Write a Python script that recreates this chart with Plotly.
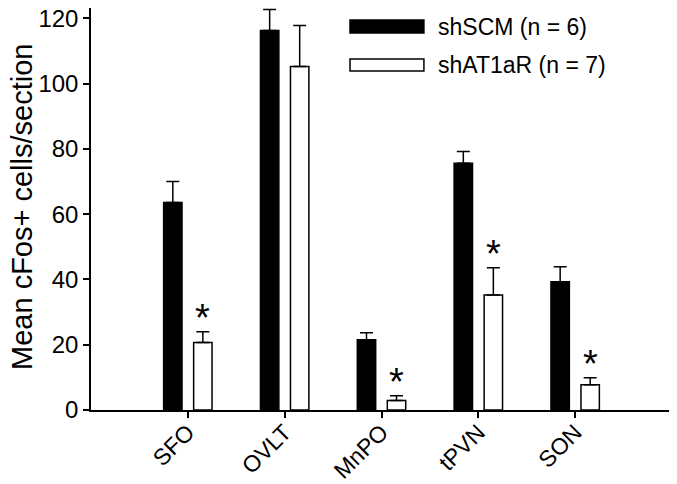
import plotly.graph_objects as go

regions = ["SFO", "OVLT", "MnPO", "tPVN", "SON"]
shscm_mean = [63.6, 116.3, 21.5, 75.6, 39.3]
shscm_sem = [6.4, 6.4, 2.2, 3.6, 4.6]
shat1ar_mean = [20.7, 105.2, 2.9, 35.2, 7.7]
shat1ar_sem = [3.3, 12.6, 1.5, 8.4, 2.2]
significant = [True, False, True, True, True]
series_names = ["shSCM (n = 6)", "shAT1aR (n = 7)"]
y_ticks = [0, 20, 40, 60, 80, 100, 120]
y_title = "Mean cFos+ cells/section"

FONT = "Liberation Sans, Arial, sans-serif"

fig = go.Figure()
fig.add_trace(go.Bar(
    x=regions, y=shscm_mean, name=series_names[0],
    offset=-0.25, width=0.19,
    marker=dict(color="black", line=dict(color="black", width=1.5)),
    error_y=dict(type="data", array=shscm_sem, arrayminus=[0]*5, symmetric=False,
                 color="black", thickness=1.5, width=6.5),
    showlegend=False,
))
fig.add_trace(go.Bar(
    x=regions, y=shat1ar_mean, name=series_names[1],
    offset=0.06, width=0.19,
    marker=dict(color="white", line=dict(color="black", width=1.5)),
    error_y=dict(type="data", array=shat1ar_sem, arrayminus=[0]*5, symmetric=False,
                 color="black", thickness=1.5, width=6.5),
    showlegend=False,
))

# significance asterisks
for i, r in enumerate(regions):
    if significant[i]:
        fig.add_annotation(x=i + 0.155, y=shat1ar_mean[i] + shat1ar_sem[i], xref="x", yref="y",
                           text="*", showarrow=False, yanchor="bottom", xanchor="center",
                           font=dict(size=38, color="black", family=FONT), yshift=-9)

# custom legend
fig.add_shape(type="rect", xref="paper", yref="paper", x0=0.4458, x1=0.573, y0=0.938, y1=0.970,
              fillcolor="black", line=dict(color="black", width=1.5))
fig.add_shape(type="rect", xref="paper", yref="paper", x0=0.4458, x1=0.573, y0=0.843, y1=0.873,
              fillcolor="white", line=dict(color="black", width=1.5))
fig.add_annotation(x=0.593, y=0.9527, xref="paper", yref="paper", text=series_names[0],
                   showarrow=False, xanchor="left", yanchor="middle",
                   font=dict(size=23, color="black", family=FONT))
fig.add_annotation(x=0.593, y=0.858, xref="paper", yref="paper", text=series_names[1],
                   showarrow=False, xanchor="left", yanchor="middle",
                   font=dict(size=23, color="black", family=FONT))

# y-axis title
fig.add_annotation(x=-0.1188, y=0.505, xref="paper", yref="paper", text=y_title,
                   showarrow=False, textangle=-90, xanchor="center", yanchor="middle",
                   font=dict(size=29, color="black", family=FONT))

fig.update_layout(
    width=669, height=476,
    margin=dict(l=83, r=5, t=0, b=74),
    plot_bgcolor="white", paper_bgcolor="white",
    barmode="overlay",
    font=dict(family=FONT, color="black"),
    xaxis=dict(type="category", range=[-1, 5], showline=True, linecolor="black", linewidth=1.5,
               ticks="outside", ticklen=6, tickwidth=1.5, tickcolor="black",
               tickangle=-45, tickfont=dict(size=23, color="black", family=FONT),
               ticklabelstandoff=-8,
               showgrid=False, zeroline=False, automargin=False),
    yaxis=dict(range=[0, 123.16], showline=True, linecolor="black", linewidth=1.5,
               ticks="outside", ticklen=6, tickwidth=1.5, tickcolor="black",
               tickvals=y_ticks, tickfont=dict(size=24, color="black", family=FONT),
               ticklabeloverflow="allow",
               showgrid=False, zeroline=False, automargin=False),
)

fig.write_html("out.html")
